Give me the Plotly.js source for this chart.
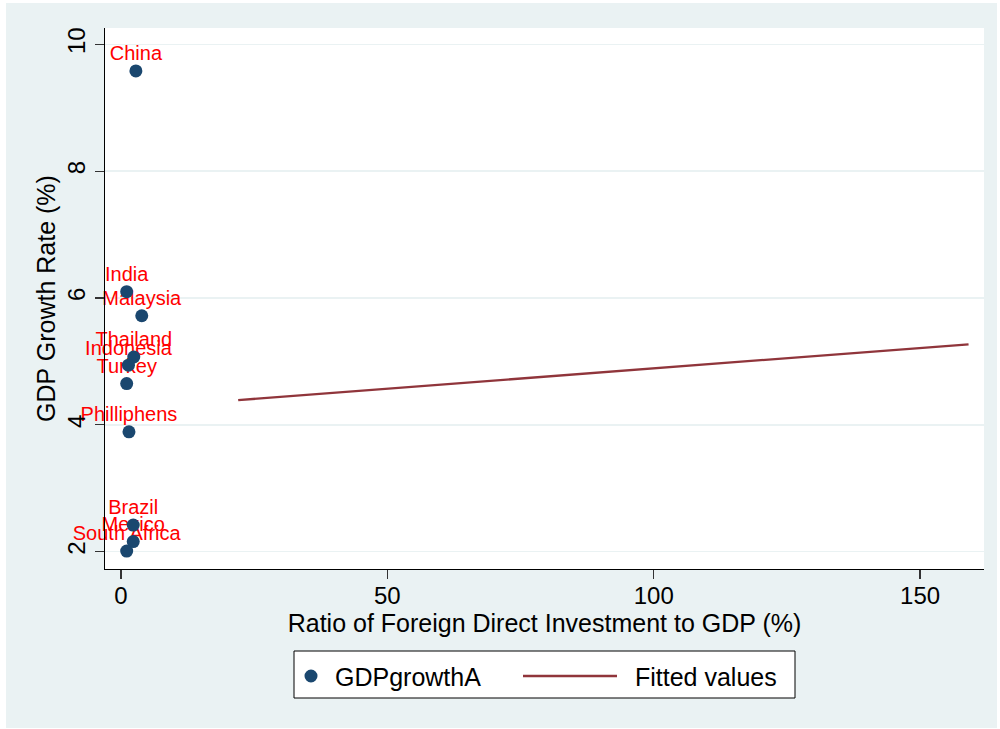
<!DOCTYPE html>
<html>
<head>
<meta charset="utf-8">
<script src="https://cdn.plot.ly/plotly-3.0.1.min.js"></script>
<style>
  html, body { margin: 0; padding: 0; background: #ffffff; width: 1000px; height: 729px; overflow: hidden; }
  #chart { position: absolute; left: 6px; top: 3px; width: 991px; height: 725px; }
</style>
</head>
<body>
<div id="chart"></div>
<script>
// ---- Data ----
const countries = ["China", "India", "Malaysia", "Thailand", "Indonesia", "Turkey", "Philliphens", "Brazil", "Mexico", "South Africa"];
const fdiRatio  = [2.8, 1.07, 3.9, 2.4, 1.4, 1.07, 1.5, 2.3, 2.3, 1.07];
const gdpGrowth = [9.58, 6.10, 5.72, 5.07, 4.94, 4.65, 3.89, 2.42, 2.16, 2.01];
const fitX = [22.0, 159.1];
const fitY = [4.39, 5.27];
const xTicks = [0, 50, 100, 150];
const yTicks = [2, 4, 6, 8, 10];
const legendNames = ["GDPgrowthA", "Fitted values"];

const navy = "#1a476f";
const maroon = "#90353b";
const bg = "#eaf2f3";
const FONT = "Liberation Sans, Arial, Helvetica, sans-serif";

const traces = [
  // country labels (drawn first so the markers sit on top, as in the reference)
  {
    type: "scatter",
    mode: "markers+text",
    x: fdiRatio,
    y: gdpGrowth,
    text: countries,
    textposition: "top center",
    textfont: { family: FONT, size: 20, color: "#ff0000" },
    marker: { color: "rgba(0,0,0,0)", size: 7.5, line: { width: 0 } },
    hoverinfo: "skip",
    showlegend: false,
    cliponaxis: false
  },
  {
    type: "scatter",
    mode: "markers",
    x: fdiRatio,
    y: gdpGrowth,
    marker: { color: navy, size: 13, line: { width: 0 } },
    name: legendNames[0],
    showlegend: false,
    cliponaxis: false
  },
  {
    type: "scatter",
    mode: "lines",
    x: fitX,
    y: fitY,
    line: { color: maroon, width: 2.3 },
    name: legendNames[1],
    showlegend: false
  }
];

// plot-area pixel geometry helpers for the hand-made legend box
const L = 99, T = 25, W = 879, H = 541;
const px = v => (v - 105) / W;      // page x -> paper x
const py = v => (569 - v) / H;      // page y -> paper y

const layout = {
  width: 991,
  height: 725,
  margin: { l: L, r: 991 - L - W, t: T, b: 725 - T - H, pad: 0 },
  paper_bgcolor: bg,
  plot_bgcolor: "#ffffff",
  font: { family: FONT, color: "#000000" },
  showlegend: false,
  xaxis: {
    range: [-3.0, 162.0],
    tickvals: xTicks,
    ticktext: xTicks.map(String),
    ticks: "outside",
    ticklen: 9,
    tickwidth: 1.3,
    tickcolor: "#333333",
    ticklabelstandoff: -4,
    tickfont: { family: FONT, size: 24, color: "#000000" },
    showgrid: false,
    zeroline: false,
    showline: true,
    linecolor: "#000000",
    linewidth: 1.3,
    title: { text: "Ratio of Foreign Direct Investment to GDP (%)", font: { family: FONT, size: 25, color: "#000000" }, standoff: 1 },
    automargin: false
  },
  yaxis: {
    range: [1.727, 10.257],
    tickvals: yTicks,
    ticktext: yTicks.map(String),
    tickangle: -90,
    ticks: "outside",
    ticklen: 9,
    tickwidth: 1.3,
    tickcolor: "#333333",
    tickfont: { family: FONT, size: 24, color: "#000000" },
    showgrid: true,
    gridcolor: bg,
    gridwidth: 1.5,
    zeroline: false,
    showline: true,
    linecolor: "#000000",
    linewidth: 1.3,
    title: { text: "GDP Growth Rate (%)", font: { family: FONT, size: 25, color: "#000000" }, standoff: 0 },
    automargin: false
  },
  shapes: [
    // legend frame
    { type: "rect", xref: "paper", yref: "paper", x0: px(294), x1: px(795), y0: py(698), y1: py(651),
      line: { color: "#000000", width: 1 }, fillcolor: "#ffffff", layer: "above" },
    // legend marker
    { type: "circle", xref: "paper", yref: "paper", xsizemode: "pixel", ysizemode: "pixel",
      xanchor: px(311), yanchor: py(676), x0: -6.5, x1: 6.5, y0: -6.5, y1: 6.5,
      fillcolor: navy, line: { width: 0 }, layer: "above" },
    // legend line
    { type: "line", xref: "paper", yref: "paper", x0: px(523), x1: px(617), y0: py(676), y1: py(676),
      line: { color: maroon, width: 2.3 }, layer: "above" }
  ],
  annotations: [
    { xref: "paper", yref: "paper", x: px(333), y: py(677), xanchor: "left", yanchor: "middle",
      text: legendNames[0], showarrow: false, font: { family: FONT, size: 25, color: "#000000" } },
    { xref: "paper", yref: "paper", x: px(633), y: py(677), xanchor: "left", yanchor: "middle",
      text: legendNames[1], showarrow: false, font: { family: FONT, size: 25, color: "#000000" } }
  ]
};

Plotly.newPlot("chart", traces, layout, { displayModeBar: false, staticPlot: true });
</script>
</body>
</html>
